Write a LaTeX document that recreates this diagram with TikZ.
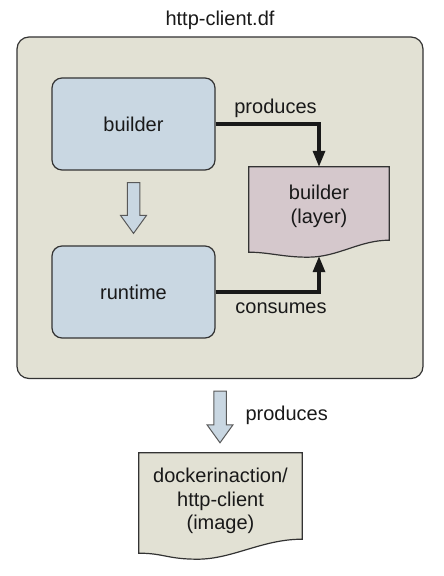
\documentclass[tikz,border=0pt]{standalone}
\usepackage{fontspec}
\setmainfont{Liberation Sans}
\usetikzlibrary{arrows.meta,calc,backgrounds}
\definecolor{dfgray}{HTML}{E2E1D4}
\definecolor{stepblue}{HTML}{C9D7E2}
\definecolor{layerpink}{HTML}{D5C8CC}
\definecolor{inkgray}{HTML}{333333}
\tikzset{
  stage/.style={draw=inkgray, line width=1.2pt, fill=stepblue, rounded corners=10pt,
    minimum width=163pt, minimum height=92pt},
  docline/.style={draw=inkgray, line width=1.2pt},
  flow/.style={line width=3.2pt, -{Triangle[width=12pt,length=16pt]}, black!90},
  blockarr/.style={draw=black!65, line width=1pt, fill=stepblue}
}

\begin{document}
\begin{tikzpicture}[x=1pt, y=1pt, font=\fontsize{20}{23.5}\selectfont, text=black!90]
  \useasboundingbox (0,0) rectangle (444,576);
  % Dockerfile container
  \begin{scope}[on background layer]
    \node[draw=inkgray, line width=1.2pt, fill=dfgray, rounded corners=12pt,
      minimum width=406pt, minimum height=341.5pt] (df) at (220,368.25) {};
  \end{scope}
  \node (title) at (220,556) {http-client.df};
  % stages
  \node[stage] (builder) at (133.5,452) {builder};
  \node[stage] (runtime) at (133.5,284) {runtime};
  % documents (text only, outline drawn behind)
  \node[minimum width=140pt, minimum height=79pt, align=center] (layer) at (319,369.5) {builder\\(layer)};
  \node[minimum width=163pt, minimum height=96pt, align=center] (image) at (220.5,75) {dockerinaction/\\http-client\\(image)};
  \begin{scope}[on background layer]
    \draw[docline, fill=layerpink] (layer.north west) -- (layer.north east) -- ([yshift=6pt]layer.south east)
      .. controls +(-30,0) and +(30,0) .. ([xshift=-11pt,yshift=-11pt]layer.south)
      .. controls +(-25,0) and +(20,0) .. ([yshift=-6pt]layer.south west) -- cycle;
    \draw[docline, fill=dfgray] (image.north west) -- (image.north east) -- ([yshift=10pt]image.south east)
      .. controls +(-40,0) and +(35,0) .. ([xshift=-23pt,yshift=-10pt]image.south)
      .. controls +(-30,0) and +(25,0) .. ([yshift=-4pt]image.south west) -- cycle;
  \end{scope}
  % connectors
  \coordinate (laybot) at ([yshift=-10pt]layer.south);
  \draw[flow] (builder.east) -| (layer.north);
  \draw[flow] (runtime.east) -| (laybot);
  \node (prod) at (275.5,468) {produces};
  \node (cons) at (281,268) {consumes};
  \node (prodimg) at (286.7,161) {produces};
  % block arrows
  \foreach \a/\b/\g in {builder/runtime/12, df/image/10} {
    \draw[blockarr] let \p1=([yshift=-12pt]\a.south), \p2=([yshift=\g pt]\b.north) in
      (\x1-6.25pt,\y1) -- (\x1+6.25pt,\y1) -- (\x1+6.25pt,\y2+18pt) -- (\x1+13pt,\y2+18pt)
      -- (\x1,\y2) -- (\x1-13pt,\y2+18pt) -- (\x1-6.25pt,\y2+18pt) -- cycle;
  }
\end{tikzpicture}
\end{document}
